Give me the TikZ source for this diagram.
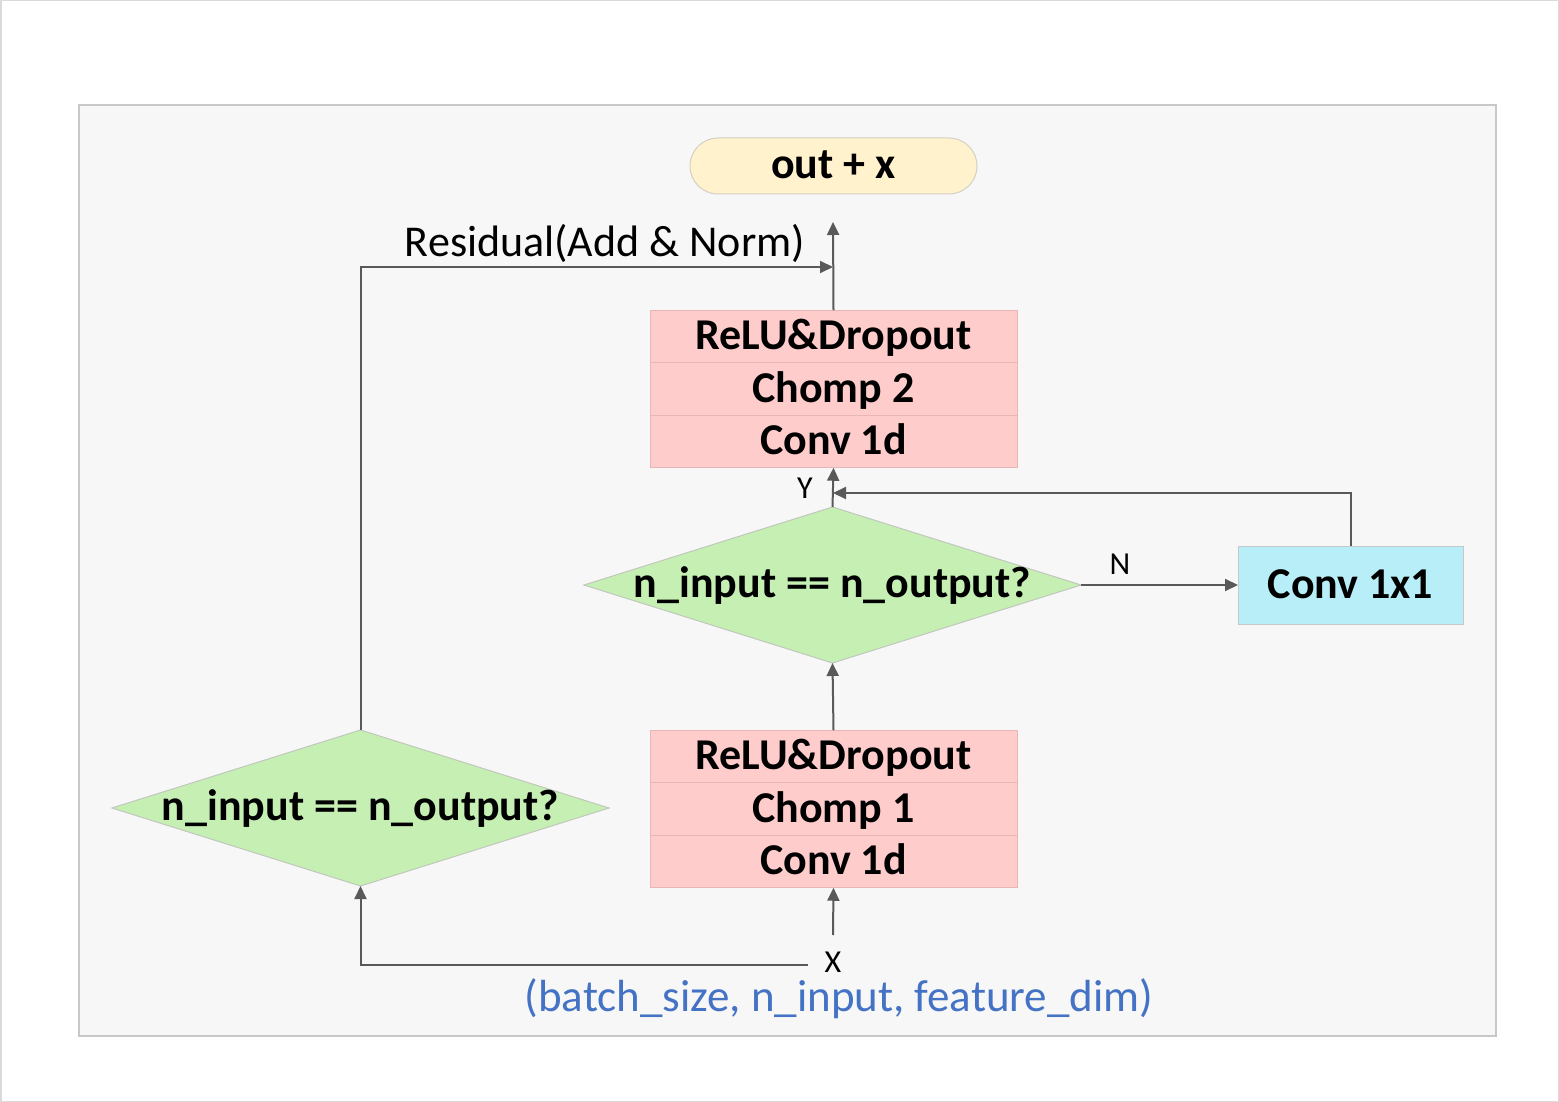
\documentclass[tikz,border=0pt]{standalone}
\usepackage{fontspec}
\setmainfont{Carlito}
\usetikzlibrary{arrows.meta,shapes.geometric}
\definecolor{linec}{HTML}{595959}
\definecolor{panelf}{HTML}{F7F7F7}
\definecolor{panelb}{HTML}{C8C8C8}
\definecolor{outerb}{HTML}{DADADA}
\definecolor{pinkf}{HTML}{FFCCCC}
\definecolor{pinkb}{HTML}{E8B6B6}
\definecolor{diaf}{HTML}{C6EFB4}
\definecolor{diab}{HTML}{C0C8BC}
\definecolor{cyanf}{HTML}{B7EEF8}
\definecolor{cyanb}{HTML}{C4C8CA}
\definecolor{yelf}{HTML}{FFF2CC}
\definecolor{yelb}{HTML}{D4D0C4}
\definecolor{bluet}{HTML}{4472C4}
\newcommand\fbigb{\fontsize{44}{50}\selectfont\bfseries}
\newcommand\fnorm{\fontsize{44}{50}\selectfont}
\newcommand\fblue{\fontsize{45}{50}\selectfont}
\newcommand\fsml{\fontsize{32}{36}\selectfont}
\begin{document}
\begin{tikzpicture}[x=1pt,y=-1pt,
  conn/.style={draw=linec,line width=2pt,-{Triangle[length=13pt,width=12pt]}},
  boldtext/.style={font=\fbigb,text height=26pt,text depth=0pt},
  stackbox/.style={boldtext,draw=pinkb,line width=1pt,fill=pinkf,minimum width=367pt,minimum height=52.5pt,inner sep=0pt,outer sep=0pt},
  decision/.style={diamond,draw=diab,line width=1pt,fill=diaf,minimum width=497pt,minimum height=156pt,inner sep=0pt,outer sep=0pt,font=\fbigb,text height=24pt,text depth=0pt},
  plainlbl/.style={inner sep=0pt,outer sep=0pt,anchor=base},
]
\useasboundingbox (0,0) rectangle (1559,1102);
\draw[outerb,line width=1.5pt] (0.75,0.75) rectangle (1558.25,1101.25);
\draw[panelb,fill=panelf,line width=1.5pt] (79,105) rectangle (1496,1036);

\node[boldtext,draw=yelb,fill=yelf,line width=1pt,rounded corners=28pt,minimum width=287pt,minimum height=56pt,inner sep=0pt,outer sep=0pt] (out) at (833.5,166) {out + x};

\node[stackbox] (s2a) at (833.5,336.5) {ReLU\&Dropout};
\node[stackbox] (s2b) at (833.5,389) {Chomp 2};
\node[stackbox] (s2c) at (833.5,441.5) {Conv 1d};

\node[stackbox] (s1a) at (833.5,756.5) {ReLU\&Dropout};
\node[stackbox] (s1b) at (833.5,809) {Chomp 1};
\node[stackbox] (s1c) at (833.5,861.5) {Conv 1d};

\node[decision] (d1) at (832.5,585) {\makebox[0pt]{n\_input == n\_output?}};
\node[decision] (d2) at (360.5,808) {\makebox[0pt]{n\_input == n\_output?}};

\node[boldtext,draw=cyanb,fill=cyanf,line width=1pt,minimum width=225pt,minimum height=78pt,inner sep=0pt,outer sep=0pt] (c11) at (1350.5,585) {Conv 1x1};

% input
\coordinate (xin) at (833,935);
\coordinate (xleft) at (808,965);
\node[plainlbl,font=\fsml] (xlbl) at (833,972) {X};
\node[plainlbl,font=\fblue,text=bluet] (shape) at (839,1011) {(batch\_size, n\_input, feature\_dim)};
\draw[conn] (xin) -- (s1c.south);
\draw[conn] (xleft) -| (d2.south);

% middle
\draw[conn] (s1a.north) -- (d1.south);
\draw[conn] (d1.north) -- (s2c.south);
\node[plainlbl,font=\fsml] (ylbl) at (805,498) {Y};
\draw[conn] (d1.east) -- (c11.west);
\node[plainlbl,font=\fsml] (nlbl) at (1120,574) {N};
\coordinate (yjoin) at (833,493);
\draw[conn] (c11.north) |- (yjoin);

% top
\coordinate (top) at (833,222);
\draw[conn] (s2a.north) -- (top);
\coordinate (resjoin) at (833,267);
\draw[conn] (d2.north) |- (resjoin);
\node[plainlbl,font=\fnorm] (reslbl) at (605,257) {Residual(Add \& Norm)};
\end{tikzpicture}
\end{document}
